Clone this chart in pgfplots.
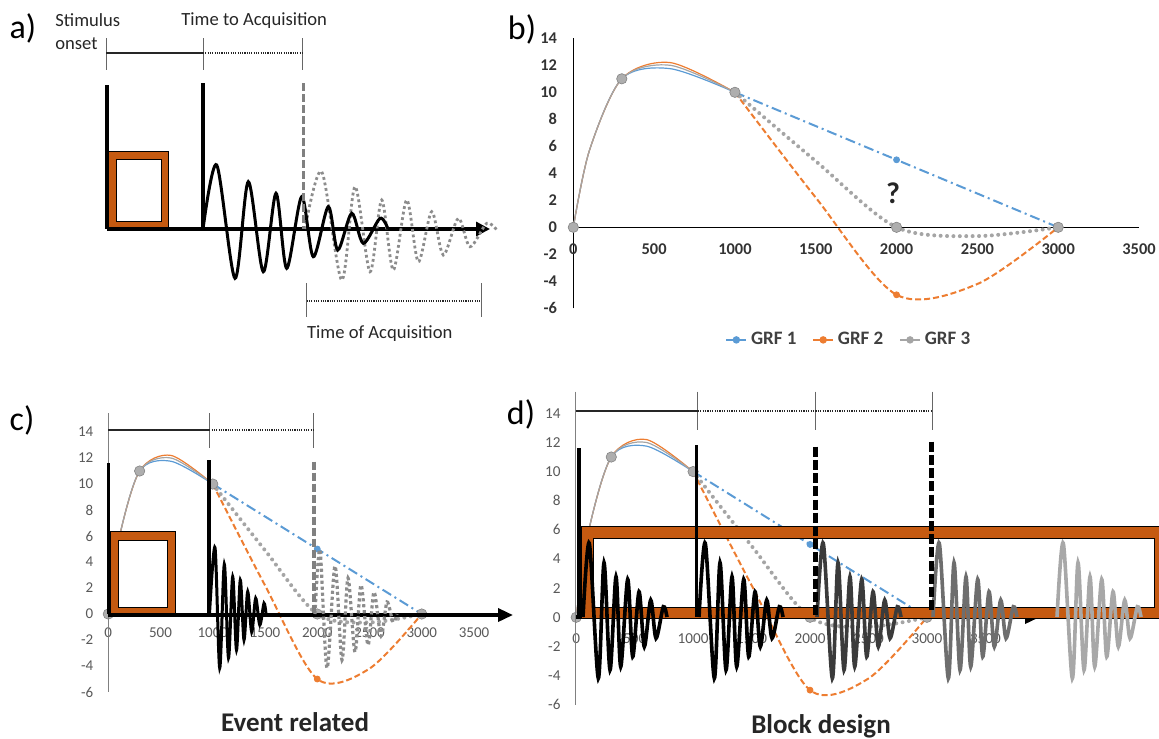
\documentclass[border=0pt]{standalone}
\usepackage{pgfplots}
\pgfplotsset{compat=1.18}
\usepackage{pgfplotstable}
\usepackage{fontspec}
\setmainfont{Carlito}
\usetikzlibrary{arrows.meta}

\definecolor{frameorange}{HTML}{C55A11}
\definecolor{grfblue}{HTML}{5B9BD5}
\definecolor{grforange}{HTML}{ED7D31}
\definecolor{grfgray}{HTML}{A5A5A5}
\definecolor{ticktext}{HTML}{595959}
\definecolor{darktext}{HTML}{262626}

% GRF data: rising part (solid) and decaying part (styled)
\pgfplotstableread{
x y
0 0
100 5.7
300 11
600 11.75
1000 10
}\grfAone
\pgfplotstableread{
x y
1000 10
2000 5
3000 0
}\grfAtwo
\pgfplotstableread{
x y
0 0
100 5.7
300 11
600 12.2
1000 10
}\grfBone
\pgfplotstableread{
x y
1000 10
1500 2.2
2000 -5
2500 -4.2
3000 0
}\grfBtwo
\pgfplotstableread{
x y
0 0
100 5.7
300 11
600 12.0
1000 10
}\grfCone
\pgfplotstableread{
x y
1000 10
1500 4.9
2000 0
2500 -0.65
3000 0
}\grfCtwo

% damped wavelet used in panel d (x relative, y in pixels)
\pgfplotstableread{
x y
0 617
6.3 543.3
15.3 678.3
21 562.7
27 670
33 576.7
37.7 666.7
44.7 579.3
49.7 656.7
56 591.7
61.3 646.7
67.7 600
73 638.3
80.3 606.7
84 617
}\wavelet

\newcommand{\grfplots}{%
\addplot[grfblue, line width=0.6pt, smooth] table {\grfAone};
\addplot[grforange, line width=0.6pt, smooth] table {\grfBone};
\addplot[grfgray, line width=0.6pt, smooth] table {\grfCone};
\addplot[grfblue, line width=1pt, dash pattern=on 5pt off 2pt on 1pt off 2pt] table {\grfAtwo};
\addplot[grforange, line width=1pt, smooth, dash pattern=on 3pt off 1.5pt] table {\grfBtwo};
\addplot[grfgray, line width=2pt, smooth, line cap=round, dash pattern=on 0pt off 3.2pt] table {\grfCtwo};
\addplot[only marks, mark=*, mark size=1.5pt, grfblue] coordinates {(2000,5)};
\addplot[only marks, mark=*, mark size=1.5pt, grforange] coordinates {(2000,-5)};
\addplot[only marks, mark=*, mark size=2.6pt, mark options={fill=grfgray!90!white, draw=grfgray!80!black, line width=0.3pt}] coordinates {(0,0) (300,11) (1000,10) (2000,0) (3000,0)};
}

\begin{document}
\begin{tikzpicture}
\useasboundingbox (0pt,0pt) rectangle (579.5pt,-369pt);

% ---------------- panel b
\begin{axis}[at={(286.65pt,-154.15pt)}, anchor=south west,
  width=282.85pt, height=135pt, scale only axis,
  xmin=0, xmax=3500, ymin=-6, ymax=14,
  axis x line=middle, axis y line=left,
  axis line style={-, line width=0.6pt, black},
  hide obscured x ticks=false, hide obscured y ticks=false,
  major tick length=0pt,
  xtick={0,500,1000,1500,2000,2500,3000,3500},
  xticklabels={0,500,1000,1500,2000,2500,3000,3500},
  ytick={-6,-4,-2,0,2,4,6,8,10,12,14},
  yticklabels={-6,-4,-2,0,2,4,6,8,10,12,14},
  xticklabel style={font=\fontsize{8.2}{9}\selectfont\bfseries, text=black!80, yshift=-4.6pt},
  yticklabel style={font=\fontsize{8.2}{9}\selectfont\bfseries, text=black!80, xshift=-4.6pt},
  clip=false,
  legend image code/.code={\draw[mark repeat=2,mark phase=2,#1] plot coordinates {(0pt,0pt) (5pt,0pt) (10pt,0pt)};},
  legend style={at={(axis description cs:0.489,-0.117)}, anchor=center, draw=none, fill=none,
    legend columns=3, font=\fontsize{9.5}{11}\selectfont\bfseries, text=black!75,
    /tikz/every even column/.append style={column sep=6pt}}]
\addlegendimage{grfblue, line width=0.7pt, mark=*, mark size=1.5pt}
\addlegendimage{grforange, line width=0.7pt, mark=*, mark size=1.5pt}
\addlegendimage{grfgray, line width=0.7pt, mark=*, mark size=1.5pt}
\legend{GRF 1, GRF 2, GRF 3}
\grfplots
\end{axis}

% ---------------- panel c
\begin{axis}[at={(54.15pt,-346pt)}, anchor=south west,
  width=182.85pt, height=130pt, scale only axis,
  xmin=0, xmax=3500, ymin=-6, ymax=14,
  axis x line=middle, axis y line=left,
  axis line style={-, draw=none},
  hide obscured x ticks=false, hide obscured y ticks=false,
  major tick length=0pt,
  xtick={0,500,1000,1500,2000,2500,3000,3500},
  xticklabels={0,500,1000,1500,2000,2500,3000,3500},
  ytick={-6,-4,-2,0,2,4,6,8,10,12,14},
  yticklabels={-6,-4,-2,0,2,4,6,8,10,12,14},
  xticklabel style={font=\fontsize{7.5}{8}\selectfont, text=ticktext, yshift=-3.2pt},
  yticklabel style={font=\fontsize{7.5}{8}\selectfont, text=ticktext, xshift=-4pt},
  clip=false]
\grfplots
\end{axis}

% ---------------- panel d
\begin{axis}[at={(288.1pt,-352.35pt)}, anchor=south west,
  width=204.6pt, height=145.7pt, scale only axis,
  xmin=0, xmax=3500, ymin=-6, ymax=14,
  axis x line=middle, axis y line=left,
  axis line style={-, draw=none},
  hide obscured x ticks=false, hide obscured y ticks=false,
  major tick length=0pt,
  xtick={0,500,1000,1500,2000,2500,3000,3500},
  xticklabels={0,500,1000,1500,2000,2500,3000,3500},
  ytick={-6,-4,-2,0,2,4,6,8,10,12,14},
  yticklabels={-6,-4,-2,0,2,4,6,8,10,12,14},
  xticklabel style={font=\fontsize{7.6}{8}\selectfont, text=ticktext, yshift=-4.8pt},
  yticklabel style={font=\fontsize{7.6}{8}\selectfont, text=ticktext, xshift=-4.3pt},
  clip=false]
\grfplots
\end{axis}

% ---------------- schematic layer, in pixel units of the figure
\begin{axis}[at={(0pt,0pt)}, anchor=north west,
  width=579.5pt, height=369pt, scale only axis,
  xmin=0, xmax=1159, ymin=0, ymax=738, y dir=reverse,
  axis lines=none, clip=false]

% panel labels
\node[font=\fontsize{17}{20}\selectfont] at (axis cs:23,28) {a)};
\node[font=\fontsize{17}{20}\selectfont] at (axis cs:522,29) {b)};
\node[font=\fontsize{17}{20}\selectfont] at (axis cs:22,420) {c)};
\node[font=\fontsize{17}{20}\selectfont] at (axis cs:521,414) {d)};

% ---- panel a
\node[anchor=base west, font=\fontsize{9.3}{11}\selectfont, text=darktext, inner sep=0pt] at (axis cs:55,26) {Stimulus};
\node[anchor=base west, font=\fontsize{9.3}{11}\selectfont, text=darktext, inner sep=0pt] at (axis cs:55,49.3) {onset};
\node[anchor=base west, font=\fontsize{9.3}{11}\selectfont, text=darktext, inner sep=0pt] at (axis cs:181,25) {Time to Acquisition};
\node[anchor=base west, font=\fontsize{9.3}{11}\selectfont, text=darktext, inner sep=0pt] at (axis cs:306.7,338.3) {Time of Acquisition};
\addplot[black!60, line width=0.5pt] coordinates {(106,38) (106,70)};
\addplot[black!60, line width=0.5pt] coordinates {(203,38) (203,70)};
\addplot[black!60, line width=0.5pt] coordinates {(302,38) (302,70)};
\addplot[black!85, line width=0.7pt] coordinates {(106,53) (203,53)};
\addplot[black!85, line width=0.7pt, dash pattern=on 0.55pt off 0.6pt] coordinates {(203,53) (302,53)};
\addplot[black!60, line width=0.5pt] coordinates {(306.7,283) (306.7,317)};
\addplot[black!60, line width=0.5pt] coordinates {(481,283) (481,317)};
\addplot[black!85, line width=0.7pt, dash pattern=on 0.55pt off 0.6pt] coordinates {(306.7,301) (481,301)};
\addplot[fill=frameorange, draw=black, line width=0.5pt] coordinates {(107,151) (168,151) (168,229) (107,229)} --cycle;
\addplot[fill=white, draw=black, line width=0.5pt] coordinates {(116,159) (161,159) (161,221) (116,221)} --cycle;
\addplot[black, line width=1.6pt, -{Triangle[length=7pt,width=7pt]}] coordinates {(107,229) (490,229)};
\addplot[black!45, line width=1.4pt, dash pattern=on 1.4pt off 1.4pt, smooth] coordinates {
 (305,229) (321.7,171.7) (341.7,280) (355,186.7) (370,271.7) (381.7,200) (393.3,270)
 (406.7,200) (418.3,261.7) (431.7,211.7) (443.3,255) (458.3,218.3) (470,246.7) (486.7,223.3) (496.7,230)};
\addplot[black, line width=1.5pt, smooth] coordinates {
 (203,229) (216.7,165) (235,278.3) (248.3,181.7) (263.3,271.7) (276,193.3) (286.7,268.3)
 (301.7,196.7) (313.3,256.7) (328.3,206.7) (337.7,250) (351.7,213.3) (363.3,243.3) (380,218.3) (388,229)};
\addplot[black, line width=1.65pt] coordinates {(107,85) (107,229)};
\addplot[black, line width=1.65pt] coordinates {(203,83) (203,229)};
\addplot[black!50, line width=1.5pt, dash pattern=on 4pt off 1.5pt] coordinates {(303.5,83) (303.5,229)};

% ---- panel b
\node[font=\fontsize{15}{18}\selectfont\bfseries, text=black!85] at (axis cs:893,193) {?};

% ---- panel c
\node[anchor=base, font=\fontsize{13.5}{16}\selectfont\bfseries, text=darktext] at (axis cs:295,731.7) {Event related};
\addplot[black!50, line width=0.5pt] coordinates {(108.3,413) (108.3,692)};
\addplot[black!60, line width=0.5pt] coordinates {(209.3,413) (209.3,448)};
\addplot[black!60, line width=0.5pt] coordinates {(313.3,413) (313.3,448)};
\addplot[black!85, line width=0.7pt] coordinates {(108.3,430) (209.3,430)};
\addplot[black!85, line width=0.7pt, dash pattern=on 0.55pt off 0.6pt] coordinates {(209.3,430) (313.3,430)};
\addplot[fill=frameorange, draw=black, line width=0.5pt] coordinates {(110,531.7) (175,531.7) (175,615) (110,615)} --cycle;
\addplot[fill=white, draw=black, line width=0.5pt] coordinates {(118.3,540.7) (167.3,540.7) (167.3,607.3) (118.3,607.3)} --cycle;
\addplot[black, line width=1.7pt, -{Triangle[length=7.5pt,width=6.5pt]}] coordinates {(108,615) (513,615)};
\addplot[black!45, line width=1.6pt, dash pattern=on 1.6pt off 1.4pt, smooth] coordinates {
 (315,614) (320,550) (327,668) (335,566) (342,660) (348,578) (355,652) (361,585) (368,645)
 (374,592) (381,636) (387,602) (393,622) (397,614)};
\addplot[black, line width=1.5pt, smooth] coordinates {
 (209.5,614) (215,547.7) (219.7,668) (224.3,564.3) (228.5,658) (232.7,576.7) (236.5,650) (240.3,580)
 (244,640) (247.7,591.7) (251.7,632) (255.7,598.3) (259.8,625) (264,603.3) (266,614)};
\addplot[black, line width=1.65pt] coordinates {(108.3,463) (108.3,614)};
\addplot[black, line width=1.65pt] coordinates {(209,460) (209,614)};
\addplot[black!50, line width=2pt, dash pattern=on 4pt off 1.5pt] coordinates {(314.3,461.7) (314.3,614)};

% ---- panel d
\node[anchor=base, font=\fontsize{13.5}{16}\selectfont\bfseries, text=darktext] at (axis cs:821,733.3) {Block design};
\addplot[black!50, line width=0.5pt] coordinates {(575.7,391.7) (575.7,705)};
\addplot[black!60, line width=0.5pt] coordinates {(697.7,391.7) (697.7,430)};
\addplot[black!60, line width=0.5pt] coordinates {(815,391.7) (815,430)};
\addplot[black!60, line width=0.5pt] coordinates {(932.3,391.7) (932.3,430)};
\addplot[black!85, line width=0.8pt] coordinates {(575.7,410.7) (697.7,410.7)};
\addplot[black!85, line width=0.8pt, dash pattern=on 0.6pt off 0.6pt] coordinates {(697.7,410.7) (932.3,410.7)};
\addplot[black, line width=1.7pt, -{Triangle[length=7.5pt,width=6.5pt]}] coordinates {(576,617) (1040,617)};
% orange frame as a band (outer minus inner), so the curves stay visible inside
\addplot[fill=frameorange, draw=none, even odd rule] coordinates {(581.7,526) (1159,526) (1159,618) (581.7,618) (581.7,526) (593.3,538) (1154,538) (1154,607) (593.3,607) (593.3,538)} --cycle;
\addplot[draw=black, line width=0.5pt] coordinates {(581.7,526) (1159,526) (1159,618) (581.7,618)} --cycle;
\addplot[draw=black, line width=0.5pt] coordinates {(593.3,538) (1154,538) (1154,607) (593.3,607)} --cycle;
\addplot[black, line width=1.8pt, smooth] table[x expr=\thisrow{x}+583] {\wavelet};
\addplot[black, line width=1.8pt, smooth] table[x expr=\thisrow{x}+699] {\wavelet};
\addplot[black!77, line width=1.8pt, smooth] table[x expr=\thisrow{x}+817] {\wavelet};
\addplot[black!57, line width=1.8pt, smooth] table[x expr=\thisrow{x}+933] {\wavelet};
\addplot[black!34, line width=1.8pt, smooth] table[x expr=\thisrow{x}+1057] {\wavelet};
\addplot[black, line width=1.65pt] coordinates {(579,448.3) (579,617.3)};
\addplot[black, line width=1.65pt] coordinates {(696.7,445) (696.7,617.3)};
\addplot[black, line width=2.4pt, dash pattern=on 5pt off 1.6pt] coordinates {(815.7,446.7) (815.7,617)};
\addplot[black, line width=2.4pt, dash pattern=on 5pt off 1.6pt] coordinates {(931.7,441.7) (931.7,613)};
\end{axis}
\end{tikzpicture}
\end{document}
